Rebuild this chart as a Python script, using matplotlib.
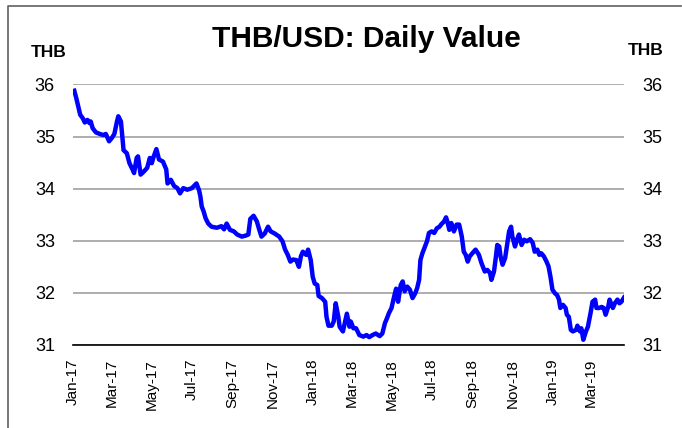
import matplotlib
matplotlib.use("Agg")
import matplotlib.pyplot as plt
import matplotlib.dates as mdates
from matplotlib.lines import Line2D
import pandas as pd

plt.rcParams['font.family'] = ['Liberation Sans', 'DejaVu Sans']

# days since 1 Jan 2017
day_offsets = [
    2, 5, 8, 11, 15, 18, 22, 25, 27, 30, 35, 41, 46, 50, 55, 59, 63, 67, 69, 73,
    77, 82, 86, 91, 93, 97, 99, 103, 108, 113, 117, 120, 123, 127, 131, 137, 142,
    144, 149, 154, 159, 163, 168, 174, 181, 188, 192, 194, 196,
    199, 202, 206, 211, 219, 226, 230, 234, 239, 245, 250, 257, 263, 267, 270,
    275, 280, 283, 287, 292, 297, 301, 307, 314, 319, 323, 327, 331, 335, 340,
    344, 347, 350, 355, 358, 362, 365, 368, 372, 374, 379, 384, 386, 389, 394,
    397, 400, 404, 406, 411, 417, 421,
    423, 427, 431, 436, 442, 447, 451, 456, 461, 467, 471, 475, 478, 481, 485,
    489, 492, 495, 499, 502, 505, 509, 513, 517, 521, 524, 527, 529, 532, 536,
    539, 542, 546, 550, 554, 558, 561, 565, 568, 570, 573, 576, 580, 584, 588,
    592, 595, 598, 601, 604, 608, 613, 618,
    622, 627, 631, 635, 637, 641, 644, 646, 649, 651, 654, 658, 661, 664, 667,
    669, 673, 676, 679, 683, 687, 691, 696, 700, 703, 707, 710, 713, 717, 721,
    724, 727, 730, 734, 737, 740, 742, 746, 750, 752, 755, 758, 761, 766, 768,
    772, 774, 777, 781, 784, 788, 791, 795, 797, 801, 805, 808, 811, 815, 817,
    822, 825, 829, 832, 835, 839,
]

thb_usd = [
    35.88, 35.74, 35.58, 35.42, 35.35, 35.27, 35.32, 35.26, 35.29, 35.16, 35.08,
    35.05, 35.03, 35.05, 34.91, 34.97, 35.05, 35.29, 35.39, 35.29,
    34.74, 34.68, 34.49, 34.36, 34.30, 34.59, 34.62, 34.27, 34.33, 34.40, 34.59,
    34.49, 34.62, 34.76, 34.56, 34.52, 34.37,
    34.10, 34.17, 34.05, 34.01, 33.91, 34.01, 33.98, 34.01, 34.10, 33.97, 33.85,
    33.66,
    33.56, 33.43, 33.33, 33.27, 33.25, 33.28, 33.22, 33.33, 33.21, 33.18, 33.12,
    33.08, 33.10, 33.12, 33.42,
    33.48, 33.37, 33.24, 33.08, 33.14, 33.27, 33.18, 33.14, 33.08, 32.99, 32.83,
    32.73, 32.60, 32.64, 32.63,
    32.50, 32.70, 32.79, 32.73, 32.83, 32.63, 32.31, 32.18, 32.15, 31.94, 31.90,
    31.83, 31.54, 31.37, 31.37,
    31.45, 31.80, 31.54, 31.35, 31.26, 31.60, 31.35,
    31.45, 31.32, 31.32, 31.19, 31.16, 31.19, 31.15, 31.19, 31.22, 31.17, 31.22,
    31.42, 31.51, 31.61, 31.71,
    31.93, 32.08, 31.83, 32.15, 32.22, 32.03, 32.12, 32.06, 31.90, 31.99, 32.09,
    32.25, 32.63, 32.76, 32.89,
    32.99, 33.15, 33.18, 33.15, 33.24, 33.27, 33.32, 33.37, 33.45, 33.37, 33.21,
    33.34, 33.18, 33.31, 33.31,
    33.08, 32.79, 32.73, 32.60, 32.70, 32.76, 32.83, 32.73,
    32.57, 32.41, 32.44, 32.38, 32.25, 32.41, 32.70, 32.92, 32.89, 32.70, 32.54,
    32.67, 32.92, 33.18, 33.27,
    33.08, 32.89, 33.02, 33.12, 32.92, 33.02, 32.99, 33.03, 32.96, 32.79, 32.83,
    32.73, 32.76, 32.70, 32.60,
    32.51, 32.31, 32.06, 31.99, 31.96, 31.87, 31.71, 31.77, 31.71, 31.58, 31.54,
    31.29, 31.26, 31.29, 31.37,
    31.26, 31.32, 31.10, 31.26, 31.35, 31.61, 31.83, 31.87, 31.71, 31.71, 31.73,
    31.71, 31.58, 31.74, 31.87,
    31.71, 31.80, 31.87, 31.80, 31.83, 31.91,
]

y_ticks = [31, 32, 33, 34, 35, 36]

start = pd.Timestamp("2017-01-01")
dates = start + pd.to_timedelta(day_offsets, unit="D")

fig = plt.figure(figsize=(6.82, 4.28), dpi=100)
ax = fig.add_axes([0.107, 0.194, 0.808, 0.6086])

ax.plot(dates, thb_usd, color="#0000FF", lw=3.2, solid_joinstyle="round")

ax.set_xlim(start, start + pd.Timedelta(days=839))
ax.set_ylim(31, 36)
ax.set_yticks(y_ticks)
ax.yaxis.grid(True, color="#A0A0A0", lw=1.2)
ax.set_axisbelow(True)

for side in ["top", "left", "right"]:
    ax.spines[side].set_visible(False)
ax.spines["bottom"].set_color("black")
ax.spines["bottom"].set_linewidth(1.2)
ax.spines["bottom"].set_zorder(3)

ax.xaxis.set_major_locator(mdates.MonthLocator(bymonth=[1, 3, 5, 7, 9, 11]))
ax.xaxis.set_major_formatter(mdates.DateFormatter("%b-%y"))
ax.tick_params(axis="x", length=0, pad=10, labelsize=11, labelrotation=90)
ax.tick_params(axis="y", length=0, pad=13, labelsize=13,
               left=True, right=True, labelleft=True, labelright=True)

fig.text(0.537, 0.91, "THB/USD: Daily Value", ha="center", va="center",
         fontsize=21.5, fontweight="bold")
fig.text(0.072, 0.878, "THB", ha="center", va="center",
         fontsize=12.5, fontweight="bold")
fig.text(0.946, 0.883, "THB", ha="center", va="center",
         fontsize=12.5, fontweight="bold")

# frame round the chart (only the left and top edges show)
fig.add_artist(Line2D([8 / 682, 8 / 682, 681 / 682], [0, 1 - 5.5 / 428, 1 - 5.5 / 428],
                      transform=fig.transFigure, color="#606060", lw=1.2))

fig.savefig("out.png", dpi=100)
